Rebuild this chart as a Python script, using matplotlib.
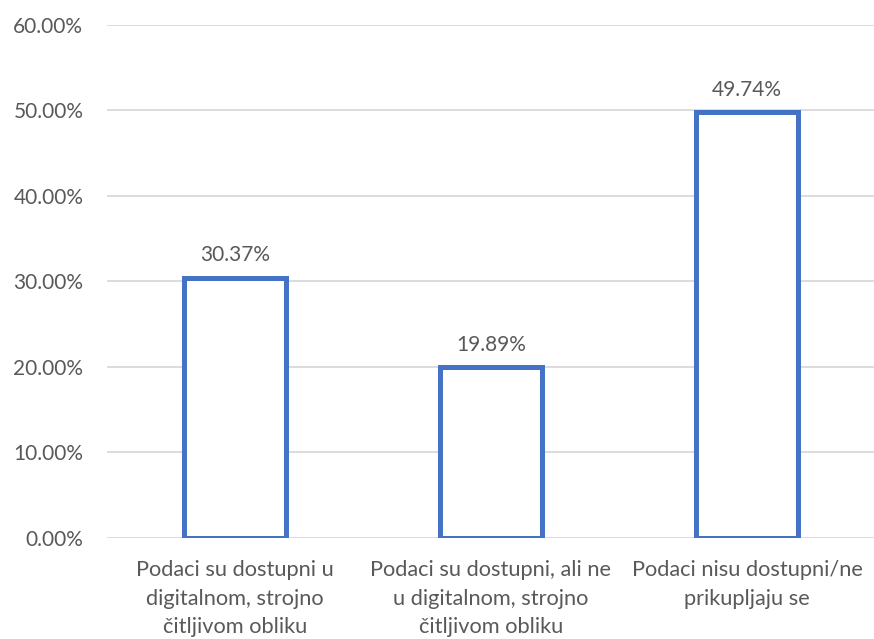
import matplotlib
matplotlib.use("Agg")
import matplotlib.pyplot as plt
from matplotlib.ticker import FuncFormatter, MultipleLocator

categories = [
    "Podaci su dostupni u\ndigitalnom, strojno\nčitljivom obliku",
    "Podaci su dostupni, ali ne\nu digitalnom, strojno\nčitljivom obliku",
    "Podaci nisu dostupni/ne\nprikupljaju se",
]
values = [30.37, 19.89, 49.74]

BLUE = "#4472C4"
GRID = "#D9D9D9"
TEXT = "#595959"

plt.rcParams["font.family"] = ["Lato", "DejaVu Sans"]

fig = plt.figure(figsize=(8.74, 6.39), dpi=100)
ax = fig.add_axes([0.1224, 0.1588, 0.8787, 0.8028])

x = range(len(categories))
bars = ax.bar(x, values, width=0.4, facecolor="white", edgecolor=BLUE,
              linewidth=3.6, joinstyle="miter", zorder=3)

for xi, v in zip(x, values):
    ax.annotate(f"{v:.2f}%", (xi, v), xytext=(0, 12), textcoords="offset points",
                ha="center", va="baseline", fontsize=15, color=TEXT)

ax.set_xlim(-0.5, len(categories) - 0.5)
ax.set_ylim(0, 60)
ax.yaxis.set_major_locator(MultipleLocator(10))
ax.yaxis.set_major_formatter(FuncFormatter(lambda v, _: f"{v:.2f}%"))
ax.set_xticks(list(x))
ax.set_xticklabels(categories, linespacing=1.55, fontsize=15.7)

ax.grid(axis="y", color=GRID, linewidth=1.3, zorder=0)
ax.set_axisbelow(True)
for s in ax.spines.values():
    s.set_visible(False)
ax.tick_params(axis="y", length=0, labelsize=15, labelcolor=TEXT, pad=17)
ax.tick_params(axis="x", length=0, labelcolor=TEXT, pad=16)

fig.savefig("out.png", dpi=100, facecolor="white")
